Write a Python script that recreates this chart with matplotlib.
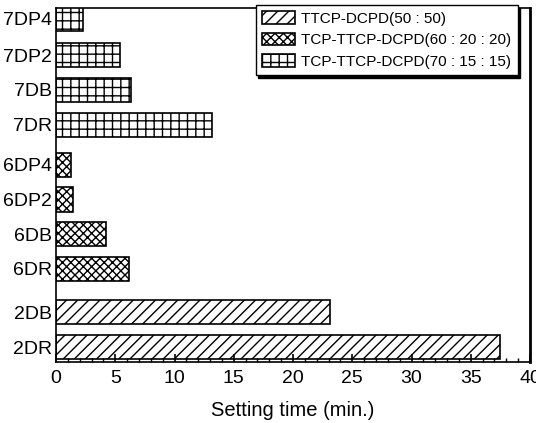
import matplotlib
matplotlib.use("Agg")
from matplotlib import pyplot as plt

plt.rcParams['font.family'] = ['Liberation Sans', 'DejaVu Sans']
plt.rcParams['hatch.linewidth'] = 1.0

# sample labels, bottom to top
labels_2 = ['2DR', '2DB']
labels_6 = ['6DR', '6DB', '6DP2', '6DP4']
labels_7 = ['7DR', '7DB', '7DP2', '7DP4']

# setting times (min.)
times_2 = [37.5, 23.1]
times_6 = [6.2, 4.2, 1.4, 1.3]
times_7 = [13.2, 6.3, 5.4, 2.3]

pos_2 = [0, 1]
pos_6 = [2.25, 3.25, 4.25, 5.25]
pos_7 = [6.4, 7.4, 8.4, 9.45]

fig = plt.figure(figsize=(5.36, 4.23), dpi=100)
ax = fig.add_axes([56/536, 1 - 362/423, 474/536, 354/423])

h = 0.7
ax.barh(pos_2, times_2, height=h, color='white', edgecolor='black', hatch='///',
        linewidth=1.2, label='TTCP-DCPD(50 : 50)')
ax.barh(pos_6, times_6, height=h, color='white', edgecolor='black', hatch='xxxx',
        linewidth=1.2, label='TCP-TTCP-DCPD(60 : 20 : 20)')
ax.barh(pos_7, times_7, height=h, color='white', edgecolor='black', hatch='++',
        linewidth=1.2, label='TCP-TTCP-DCPD(70 : 15 : 15)')

ax.set_xlim(0, 40)
ax.set_ylim(-0.43, 9.76)
ax.set_xticks(range(0, 41, 5))
ax.set_xticks(range(0, 41, 1), minor=True)
ax.set_yticks(pos_2 + pos_6 + pos_7)
ax.set_yticklabels(labels_2 + labels_6 + labels_7)
ax.tick_params(axis='x', direction='in', length=6, width=1.2, labelsize=14, pad=6)
ax.tick_params(axis='x', which='minor', direction='in', length=3, width=1)
ax.tick_params(axis='y', length=0, labelsize=14, pad=3)
for s in ax.spines.values():
    s.set_linewidth(1.2)
ax.spines['right'].set_linewidth(2)
ax.set_xlabel('Setting time (min.)', fontsize=14.5, labelpad=10)

leg = ax.legend(loc='upper right', fontsize=11, frameon=True,
                shadow={'color': 'black', 'alpha': 1},
                fancybox=False, edgecolor='black', handlelength=2.2,
                handleheight=0.9, labelspacing=0.45, borderpad=0.4,
                handletextpad=0.4, bbox_to_anchor=(0.99, 1.03))
leg.get_frame().set_linewidth(1.0)

fig.savefig('out.png', dpi=100)
